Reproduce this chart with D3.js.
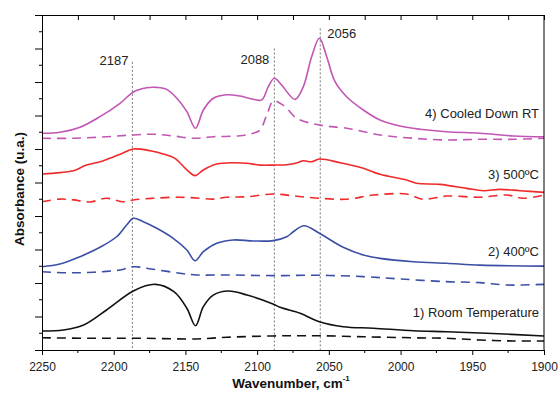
<!DOCTYPE html>
<html>
<head>
<meta charset="utf-8">
<script src="https://cdn.jsdelivr.net/npm/d3@7"></script>
<style>
  body { margin: 0; background: #fff; }
  svg { display: block; font-family: "Liberation Sans", Arial, sans-serif; }
</style>
</head>
<body>
<div id="chart"></div>
<script>
// Spectra: [wavenumber cm-1, absorbance (arb. offset units)]
const rtSolid = [[2250,1.13],[2235,1.19],[2221,1.49],[2205,2.39],[2186,3.54],[2171,3.92],[2158,3.48],[2149,2.49],[2143,1.45],[2137.5,2.59],[2130.6,3.28],[2120,3.52],[2107,3.28],[2089,2.75],[2084,2.55],[2070,2.19],[2056.6,1.69],[2040,1.39],[2019,1.30],[1991,1.15],[1968,1.09],[1940,1.00],[1900,0.84]];
const rtDash = [[2250,0.73],[2215,0.70],[2180,0.70],[2142,0.66],[2121,0.76],[2089,0.84],[2070,0.85],[2056,0.85],[2026,0.79],[1991,0.73],[1968,0.70],[1945,0.60],[1921,0.54],[1900,0.54]];

const t400Solid = [[2250,4.97],[2237.5,5.13],[2223.5,5.57],[2209.6,6.13],[2198,6.76],[2191,7.46],[2186.3,7.86],[2179.4,7.66],[2170,7.27],[2158.5,6.67],[2149,5.97],[2143.3,5.33],[2137.5,5.87],[2128.2,6.37],[2116.6,6.57],[2102.7,6.51],[2088.7,6.53],[2079.4,6.76],[2074.8,7.06],[2067.3,7.42],[2056.6,6.97],[2040,6.13],[2026,5.67],[2014.3,5.47],[1991,5.27],[1968,5.18],[1944.6,5.07],[1900,5.01]];
const t400Dash = [[2250,4.67],[2232.8,4.61],[2214.2,4.64],[2195.6,4.78],[2186.3,4.97],[2172.4,4.82],[2153.8,4.58],[2142.1,4.48],[2121.2,4.48],[2088.7,4.44],[2056.6,4.46],[2026,4.38],[2000.4,4.24],[1968,4.08],[1944.6,4.02],[1926,3.88],[1900,3.92]];

const t500Solid = [[2250,10.51],[2237.5,10.59],[2228,10.70],[2219,11.04],[2209.6,11.24],[2200,11.54],[2193,11.78],[2186.3,12.00],[2174.7,11.90],[2165.4,11.70],[2157.3,11.44],[2149,10.75],[2143.3,10.41],[2137.5,10.75],[2128.2,11.10],[2116.6,11.18],[2107.3,11.15],[2098,11.04],[2088.7,11.04],[2079.4,11.06],[2071.3,11.20],[2067.8,11.30],[2062,11.24],[2056.6,11.40],[2042.2,11.18],[2026,10.85],[2014.3,10.49],[1995.8,10.15],[1989,9.95],[1972.5,9.89],[1953.9,9.65],[1942.3,9.51],[1930.7,9.59],[1916.7,9.51],[1900,9.41]];
const t500Dash = [[2250,8.85],[2237.5,9.01],[2228,8.96],[2216.5,8.84],[2205,9.06],[2193.3,8.85],[2186.3,8.96],[2172.4,9.06],[2153.8,9.12],[2140,9.06],[2130.6,9.01],[2121.2,9.12],[2107.3,9.15],[2088.7,9.31],[2072.4,9.18],[2056.6,9.06],[2037.6,9.00],[2019,9.25],[1995.8,9.31],[1984.2,9.00],[1968,9.19],[1944.6,9.12],[1926,9.25],[1914.4,9.06],[1900,9.25]];

const cooledSolid = [[2250,12.94],[2237.5,13.00],[2223.5,13.30],[2209.6,13.93],[2195.6,14.73],[2186,15.42],[2177,15.66],[2170,15.68],[2163,15.56],[2156,15.03],[2149,14.23],[2143,13.24],[2137.5,14.33],[2130.6,15.03],[2121,15.24],[2112,15.16],[2102.7,14.97],[2096.8,14.93],[2092.2,15.72],[2088,16.22],[2083,15.82],[2073.5,14.96],[2067.8,15.72],[2062,17.51],[2056.6,18.61],[2051.5,17.51],[2045.7,16.02],[2037.6,15.12],[2026,14.33],[2014.3,13.73],[2000.4,13.37],[1986.5,13.18],[1968,13.03],[1944.6,12.94],[1921.4,12.78],[1900,12.73]];
const cooledDash = [[2250,12.64],[2228,12.64],[2205,12.73],[2186,12.84],[2172,12.88],[2158.5,12.78],[2144.5,12.64],[2130.6,12.73],[2112,12.79],[2102.7,12.94],[2098,13.13],[2093.3,14.03],[2088.7,14.87],[2084,14.73],[2079.4,14.43],[2072.4,13.83],[2056.6,13.43],[2037.6,13.24],[2014.3,12.84],[1991,12.64],[1968,12.54],[1944.6,12.58],[1921.4,12.58],[1900,12.64]];

const xTicks = [2250, 2200, 2150, 2100, 2050, 2000, 1950, 1900];
const peakLines = [2187, 2088, 2056];
const peakTop = [17.2, 18.0, 19.2];
const peakLabels = ["2187", "2088", "2056"];
const seriesLabels = ["1) Room Temperature", "2) 400\u00baC", "3) 500\u00baC", "4) Cooled Down RT"];

const width = 560, height = 401;
const margin = { left: 42, right: 16, top: 15, bottom: 51 };

const x = d3.scaleLinear().domain([2250, 1900]).range([margin.left, width - margin.right]);
const y = d3.scaleLinear().domain([0, 20]).range([height - margin.bottom, margin.top]);

const svg = d3.select("#chart").append("svg")
  .attr("width", width)
  .attr("height", height);

const series = [
  { data: rtSolid, color: "#111", dash: null },
  { data: rtDash, color: "#111", dash: "9,6" },
  { data: t400Solid, color: "#3c4fa6", dash: null },
  { data: t400Dash, color: "#3c4fa6", dash: "9,6" },
  { data: t500Solid, color: "#f02a2a", dash: null },
  { data: t500Dash, color: "#f02a2a", dash: "9,6" },
  { data: cooledSolid, color: "#c256b4", dash: null },
  { data: cooledDash, color: "#c256b4", dash: "9,6" }
];

// dotted peak markers
svg.append("g")
  .selectAll("line")
  .data(peakLines)
  .enter().append("line")
  .attr("x1", d => x(d))
  .attr("x2", d => x(d))
  .attr("y1", (d, i) => y(peakTop[i]))
  .attr("y2", y(0))
  .attr("stroke", "#777")
  .attr("stroke-width", 1)
  .attr("stroke-dasharray", "2,2");

const line = d3.line()
  .x(d => x(d[0]))
  .y(d => y(d[1]))
  .curve(d3.curveCatmullRom.alpha(0.5));

svg.append("g")
  .selectAll("path")
  .data(series)
  .enter().append("path")
  .attr("d", d => line(d.data))
  .attr("fill", "none")
  .attr("stroke", d => d.color)
  .attr("stroke-width", 1.6)
  .attr("stroke-dasharray", d => d.dash);

// axes
const minorX = d3.range(2250, 1899, -25);
const xBottom = d3.axisBottom(x).tickValues(xTicks).tickSize(5).tickSizeOuter(0).tickFormat(d3.format("d"));
const gB = svg.append("g")
  .attr("transform", `translate(0,${y(0)})`)
  .call(xBottom);
gB.selectAll("text").attr("font-size", 12).attr("fill", "#222").attr("dy", "1.1em");
gB.append("g").selectAll("line")
  .data(minorX.filter(d => !xTicks.includes(d)))
  .enter().append("line")
  .attr("x1", d => x(d)).attr("x2", d => x(d))
  .attr("y1", 0).attr("y2", 3)
  .attr("stroke", "#000");

svg.append("g")
  .attr("transform", `translate(0,${y(20)})`)
  .call(d3.axisBottom(x).tickValues(minorX).tickSize(5).tickSizeOuter(0).tickFormat(""));

const yMajor = d3.range(0, 21, 2);
const yMinor = d3.range(1, 20, 2);
const gL = svg.append("g")
  .attr("transform", `translate(${x(2250)},0)`)
  .call(d3.axisLeft(y).tickValues(yMajor).tickSize(7).tickSizeOuter(0).tickFormat(""));
gL.append("g").selectAll("line")
  .data(yMinor)
  .enter().append("line")
  .attr("x1", -3).attr("x2", 0)
  .attr("y1", d => y(d)).attr("y2", d => y(d))
  .attr("stroke", "#000");

svg.append("line")
  .attr("x1", x(1900)).attr("x2", x(1900))
  .attr("y1", y(0)).attr("y2", y(20))
  .attr("stroke", "#000");

svg.selectAll(".domain").attr("stroke", "#000");

// peak labels
const peakLabelY = [65, 63.5, 37.5];
const peakAnchor = ["end", "end", "start"];
const peakDx = [-4, -5, 7];
svg.append("g")
  .selectAll("text")
  .data(peakLabels)
  .enter().append("text")
  .attr("x", (d, i) => x(peakLines[i]) + peakDx[i])
  .attr("y", (d, i) => peakLabelY[i])
  .attr("text-anchor", (d, i) => peakAnchor[i])
  .attr("font-size", 13)
  .attr("fill", "#222")
  .text(d => d);

// series labels
const labelY = [317, 256, 179, 118];
svg.append("g")
  .selectAll("text")
  .data(seriesLabels)
  .enter().append("text")
  .attr("x", 539)
  .attr("y", (d, i) => labelY[i])
  .attr("text-anchor", "end")
  .attr("font-size", 13)
  .attr("fill", "#222")
  .text(d => d);

// axis titles
const xt = svg.append("text")
  .attr("x", 291)
  .attr("y", 388)
  .attr("text-anchor", "middle")
  .attr("font-size", 13.5)
  .attr("font-weight", "bold")
  .attr("fill", "#111")
  .text("Wavenumber, cm");
xt.append("tspan")
  .attr("font-size", 8)
  .attr("dy", -7)
  .text("-1");

svg.append("text")
  .attr("transform", "translate(24,189) rotate(-90)")
  .attr("text-anchor", "middle")
  .attr("font-size", 13.5)
  .attr("font-weight", "bold")
  .attr("fill", "#111")
  .text("Absorbance (u.a.)");
</script>
</body>
</html>
